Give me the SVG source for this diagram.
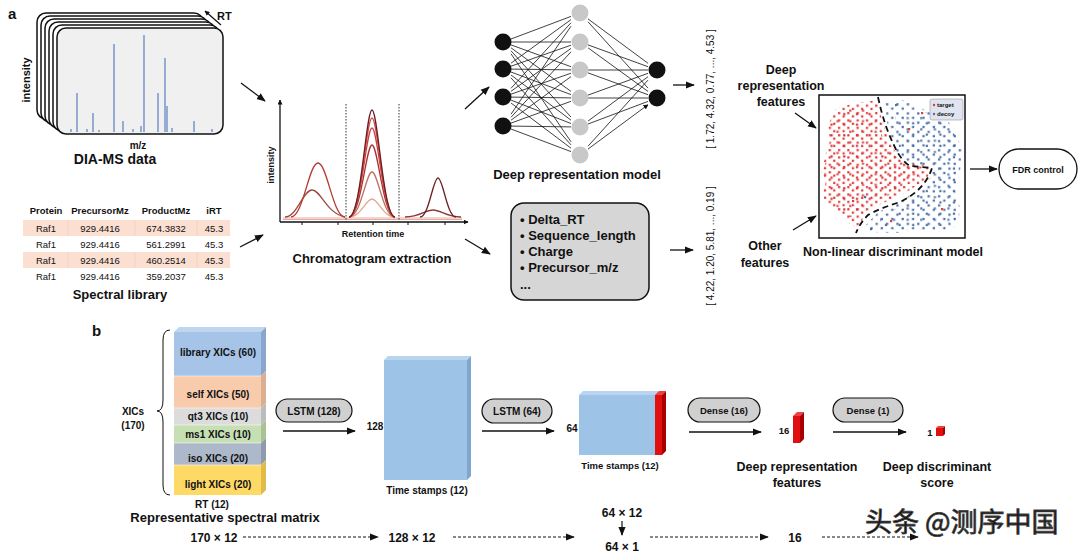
<svg xmlns="http://www.w3.org/2000/svg" width="1080" height="554" viewBox="0 0 1080 554">
<defs>
<style>
text{font-family:"Liberation Sans",Arial,sans-serif;fill:#111}
.b{font-weight:bold}
.t13{font-size:13px;font-weight:bold}
.t10{font-size:10px;font-weight:bold}
.t12{font-size:12px;font-weight:bold}
.tab{font-size:9.5px;fill:#444}
.ln{stroke:#111;stroke-width:1.3;fill:none}
.nn{stroke:#111;stroke-width:0.8;fill:none;marker-end:url(#ah)}
.pill{fill:#d0d0d0;stroke:#111;stroke-width:1.2}
.dash{stroke:#111;stroke-width:1;stroke-dasharray:3,2;fill:none;marker-end:url(#arr)}
.pk{fill:none;stroke-width:1.3}
</style>
<marker id="arr" viewBox="0 0 10 10" refX="9" refY="5" markerWidth="9" markerHeight="9" markerUnits="userSpaceOnUse" orient="auto"><path d="M0,1 L10,5 L0,9 z" fill="#111"/></marker>
<marker id="ah" viewBox="0 0 10 10" refX="9" refY="5" markerWidth="5" markerHeight="5" markerUnits="userSpaceOnUse" orient="auto"><path d="M0,0 L10,5 L0,10 z" fill="#111"/></marker>
<pattern id="pr1" width="9.3" height="7.4" patternUnits="userSpaceOnUse"><rect x="1" y="1" width="2.2" height="2.2" fill="#e03a3a"/><rect x="5.5" y="4.3" width="2.2" height="2.2" fill="#e03a3a"/></pattern>
<pattern id="pr2" x="3" y="2" width="12.7" height="10.6" patternUnits="userSpaceOnUse"><rect x="2" y="5" width="2.2" height="2.2" fill="#d83030"/><rect x="8" y="1.5" width="2.2" height="2.2" fill="#e04848"/></pattern>
<pattern id="pb1" width="10.4" height="9.2" patternUnits="userSpaceOnUse"><rect x="2" y="2" width="2.2" height="2.2" fill="#4a6fa5"/><rect x="7.2" y="6.3" width="2.2" height="2.2" fill="#4a6fa5"/></pattern>
<pattern id="pb2" x="4" y="1" width="13.6" height="11.3" patternUnits="userSpaceOnUse"><rect x="5" y="3" width="2.2" height="2.2" fill="#5a7fb5"/><rect x="10.5" y="8.2" width="2.2" height="2.2" fill="#4a6fa5"/></pattern>
</defs>
<rect width="1080" height="554" fill="#fff"/>

<text x="8" y="19" class="b" font-size="15">a</text>
<text x="92" y="336" class="b" font-size="15">b</text>

<g id="dia-ms">
<rect x="37" y="13" width="166" height="106" rx="9" fill="#fff" stroke="#111" stroke-width="1.5"/>
<rect x="41" y="16" width="166" height="106" rx="9" fill="#fff" stroke="#111" stroke-width="1.5"/>
<rect x="45" y="19" width="166" height="106" rx="9" fill="#fff" stroke="#111" stroke-width="1.5"/>
<rect x="49" y="22" width="166" height="106" rx="9" fill="#fff" stroke="#111" stroke-width="1.5"/>
<rect x="53" y="25" width="166" height="106" rx="9" fill="#fff" stroke="#111" stroke-width="1.5"/>
<rect x="57" y="28" width="166" height="106" rx="9" fill="#f0f0f0" stroke="#111" stroke-width="1.5"/>
<path d="M71,132V129 M77,132V93 M87,132V129 M93,132V113 M99,132V130 M114,132V44 M123,132V121 M133,132V129 M141,132V126 M144,132V35 M158,132V93 M165,132V58 M167,132V106 M172,132V128 M194,132V121 M212,132V129" stroke="#5b7fbf" stroke-width="1.2"/>
<line x1="221" y1="25" x2="205" y2="11" stroke="#111" stroke-width="1.2" marker-end="url(#ah)"/>
<text x="217" y="20" class="b" font-size="11">RT</text>
<text transform="translate(30,80) rotate(-90)" text-anchor="middle" class="b" font-size="11">intensity</text>
<text x="138" y="149" text-anchor="middle" class="b" font-size="10">m/z</text>
<text x="115" y="164" text-anchor="middle" class="b" font-size="14">DIA-MS data</text>
</g>

<g id="spectral-library">
<rect x="23" y="220" width="207" height="16" fill="#fbe0d2"/>
<rect x="23" y="252" width="207" height="16" fill="#fbe0d2"/>
<path d="M68,220V236 M135,220V236 M197,220V236 M68,252V268 M135,252V268 M197,252V268" stroke="#f3cdbb" stroke-width="0.8"/>
<g class="b" font-size="9.5" text-anchor="middle">
<text x="46" y="214">Protein</text><text x="100" y="214">PrecursorMz</text><text x="166" y="214">ProductMz</text><text x="214" y="214">iRT</text>
</g>
<g class="tab" text-anchor="middle">
<text x="46" y="232">Raf1</text><text x="100" y="232">929.4416</text><text x="166" y="232">674.3832</text><text x="214" y="232">45.3</text>
<text x="46" y="248">Raf1</text><text x="100" y="248">929.4416</text><text x="166" y="248">561.2991</text><text x="214" y="248">45.3</text>
<text x="46" y="264">Raf1</text><text x="100" y="264">929.4416</text><text x="166" y="264">460.2514</text><text x="214" y="264">45.3</text>
<text x="46" y="280">Raf1</text><text x="100" y="280">929.4416</text><text x="166" y="280">359.2037</text><text x="214" y="280">45.3</text>
</g>
<text x="120" y="299" text-anchor="middle" class="t13">Spectral library</text>
</g>

<g id="chromatogram">
<path d="M283,218H462 M283,219.5H462" stroke="#e8a8a0" stroke-width="1"/>
<path class="pk" stroke="#9a4a40" d="M285,217 C297,217 303,190 312,190 C321,190 326,213 345,217"/>
<path class="pk" stroke="#b83a30" d="M291,217 C303,217 309,163 318,163 C327,163 333,217 345,217"/>
<path class="pk" stroke="#e0a890" d="M349,217 C361,217 366,199 372,199 C378,199 383,217 395,217"/>
<path class="pk" stroke="#c07060" d="M349,217 C361,217 366,172 372,172 C378,172 383,217 395,217"/>
<path class="pk" stroke="#a83030" d="M349,217 C361,217 366,145 372,145 C378,145 383,217 395,217"/>
<path class="pk" stroke="#c84040" d="M349,217 C361,217 366,128 372,128 C378,128 383,217 395,217"/>
<path class="pk" stroke="#d05050" d="M349,217 C361,217 366,118 372,118 C378,118 383,217 395,217"/>
<path class="pk" stroke="#6e1c1c" d="M349,217 C361,217 366,110 372,110 C378,110 383,217 395,217"/>
<path class="pk" stroke="#8b3a3a" d="M405,217 C420,217 425,210 433,210 C441,210 446,217 461,217"/>
<path class="pk" stroke="#6b2020" d="M420,217 C429,217 433,178 438,178 C443,178 447,217 456,217"/>
<line x1="280" y1="222" x2="280" y2="100" class="ln" marker-end="url(#ah)"/>
<line x1="280" y1="222" x2="468" y2="222" class="ln" marker-end="url(#ah)"/>
<path d="M302,222v3 M338,222v3 M373,222v3 M408,222v3 M445,222v3" stroke="#111" stroke-width="1"/>
<path d="M346,104V222 M399,104V222" stroke="#333" stroke-width="1" stroke-dasharray="1.5,1.5"/>
<text transform="translate(274,165) rotate(-90)" text-anchor="middle" class="b" font-size="9">intensity</text>
<text x="373" y="237" text-anchor="middle" class="b" font-size="9">Retention time</text>
<text x="372" y="263" text-anchor="middle" class="t13">Chromatogram extraction</text>
</g>

<g id="deep-model">
<path class="nn" d="M511,39L571,16.4 M511,42L571,42 M511,44.9L571,66.7 M511,47.8L571,91.4 M511,50.8L571,117.1 M511,53.8L571,141.8
M511,63.2L571,19.6 M511,66.2L571,45.2 M511,69.1L571,69.9 M511,72L571,94.6 M511,75L571,120.2 M511,77.9L571,144.9
M511,88.3L571,22.8 M511,91.3L571,48.4 M511,94.2L571,73.2 M511,97.1L571,97.9 M511,100.1L571,123.5 M511,103L571,148.2
M511,114.2L571,26.2 M511,117.3L571,51.8 M511,120.2L571,76.6 M511,123.1L571,101.3 M511,126.1L571,126.9 M511,129L571,151.6
M588,18.9L648,63.3 M588,44.9L648,66.7 M588,70L648,70 M588,95.1L648,73.3 M588,121.1L648,76.7 M588,146.2L648,80.1
M588,21.8L648,88.1 M588,47.8L648,91.4 M588,72.9L648,94.7 M588,98L648,98 M588,124L648,101.4 M588,149.1L648,104.7"/>
<g fill="#111"><circle cx="503" cy="42" r="8.5"/><circle cx="503" cy="69" r="8.5"/><circle cx="503" cy="97" r="8.5"/><circle cx="503" cy="126" r="8.5"/><circle cx="657" cy="70" r="8.5"/><circle cx="657" cy="98" r="8.5"/></g>
<g fill="#c8c8c8"><circle cx="580" cy="13" r="8.5"/><circle cx="580" cy="42" r="8.5"/><circle cx="580" cy="70" r="8.5"/><circle cx="580" cy="98" r="8.5"/><circle cx="580" cy="127" r="8.5"/><circle cx="580" cy="155" r="8.5"/></g>
<text x="577" y="179" text-anchor="middle" class="t13">Deep representation model</text>
</g>

<g id="feature-box">
<rect x="511" y="203" width="138" height="97" rx="13" fill="#d6d6d6" stroke="#111" stroke-width="1.5"/>
<g class="b" font-size="13">
<text x="520" y="224">• Delta_RT</text>
<text x="520" y="240">• Sequence_length</text>
<text x="520" y="256">• Charge</text>
<text x="520" y="272">• Precursor_m/z</text>
<text x="520" y="289">...</text>
</g>
</g>

<g id="vectors">
<text transform="translate(714,89) rotate(-90)" text-anchor="middle" font-size="10">[ 1.72, 4.32, 0.77, ..., 4.53 ]</text>
<text transform="translate(714,246) rotate(-90)" text-anchor="middle" font-size="10">[ 4.22, 1.20, 5.81, ..., 0.19 ]</text>
</g>

<g id="feature-labels" class="b" font-size="12.5" text-anchor="middle">
<text x="781" y="74">Deep</text>
<text x="781" y="90">representation</text>
<text x="781" y="106">features</text>
<text x="765" y="250">Other</text>
<text x="765" y="267">features</text>
</g>

<g id="discriminant">
<rect x="819" y="95" width="146" height="143" fill="#fff" stroke="#111" stroke-width="1.5"/>
<path fill="url(#pb1)" d="M885,102 L905,100 L925,110 L945,118 L955,130 L962,150 L960,172 L955,190 L960,208 L958,225 L945,232 L920,231 L895,233 L872,232 L866,225 L878,212 L898,203 L918,190 L930,178 L932,166 L905,163 L895,150 L888,130 Z"/>
<path fill="url(#pb2)" d="M895,115 L925,112 L945,122 L955,135 L960,160 L955,195 L958,222 L930,230 L880,230 L880,218 L900,206 L925,188 L934,168 L906,161 L896,140 Z"/>
<path fill="url(#pr1)" d="M836,108 L852,104 L877,100 L882,120 L890,143 L902,162 L930,166 L928,178 L910,190 L890,200 L872,208 L862,220 L858,229 L850,224 L840,214 L828,206 L822,194 L826,182 L821,170 L826,156 L830,140 L828,125 Z"/>
<path fill="url(#pr2)" d="M830,118 L850,108 L872,108 L880,130 L888,150 L900,160 L925,168 L918,180 L895,193 L870,202 L856,218 L845,216 L828,200 L824,178 L826,150 Z"/>
<g fill="#e03a3a"><rect x="921" y="112" width="2.2" height="2.2"/><rect x="908" y="128" width="2.2" height="2.2"/><rect x="941" y="208" width="2.2" height="2.2"/><rect x="890" y="220" width="2.2" height="2.2"/><rect x="852" y="200" width="2.2" height="2.2"/></g>
<g fill="#4a6fa5"><rect x="895" y="104" width="2.2" height="2.2"/><rect x="864" y="196" width="2.2" height="2.2"/><rect x="870" y="228" width="2.2" height="2.2"/></g>
<path d="M878,97 Q884,125 893,143 Q900,160 910,166 L932,168 Q925,190 900,202 Q878,209 868,215 Q860,223 856,233" fill="none" stroke="#111" stroke-width="1.8" stroke-dasharray="6,4"/>
<rect x="930" y="99" width="33" height="21" rx="2" fill="#dfe4f0" stroke="#999" stroke-width="0.6"/>
<circle cx="934" cy="105" r="1.2" fill="#e03a3a"/><circle cx="934" cy="114" r="1.2" fill="#4a6fa5"/>
<text x="937" y="107" class="b" font-size="6" fill="#333">target</text>
<text x="937" y="116" class="b" font-size="6" fill="#333">decoy</text>
<text x="893" y="256" text-anchor="middle" class="b" font-size="12.5">Non-linear discriminant model</text>
</g>

<g id="fdr-control">
<rect x="999" y="149" width="78" height="40" rx="20" fill="#fff" stroke="#111" stroke-width="1.3"/>
<text x="1038" y="173" text-anchor="middle" class="b" font-size="9">FDR control</text>
</g>

<g id="matrix">
<path d="M174,332 L179,327 L266,327 L261,332 Z" fill="#c0d6f0"/>
<rect x="174" y="332" width="87" height="44" fill="#a6c3e8"/><path d="M261,332 L266,327 L266,371 L261,376 Z" fill="#8aa6cc"/>
<rect x="174" y="376" width="87" height="32" fill="#f8cbad"/><path d="M261,376 L266,371 L266,403 L261,408 Z" fill="#dcae92"/>
<rect x="174" y="408" width="87" height="17" fill="#dcdcdc"/><path d="M261,408 L266,403 L266,420 L261,425 Z" fill="#bcbcbc"/>
<rect x="174" y="425" width="87" height="18" fill="#c6e0b4"/><path d="M261,425 L266,420 L266,438 L261,443 Z" fill="#a8c296"/>
<rect x="174" y="443" width="87" height="22" fill="#adb9ca"/><path d="M261,443 L266,438 L266,460 L261,465 Z" fill="#8f9bab"/>
<rect x="174" y="465" width="87" height="30" fill="#ffd966"/><path d="M261,465 L266,460 L266,490 L261,495 Z" fill="#e0bb4a"/>
<path d="M174,376H261 M174,408H261 M174,425H261 M174,443H261 M174,465H261" stroke="#fff" stroke-width="0.8" opacity="0.7"/>
<g class="b" font-size="10" fill="#222" text-anchor="middle">
<text x="218" y="356">library XICs (60)</text>
<text x="218" y="398">self XICs (50)</text>
<text x="218" y="420">qt3 XICs (10)</text>
<text x="218" y="438">ms1 XICs (10)</text>
<text x="218" y="462">iso XICs (20)</text>
<text x="218" y="488">light XICs (20)</text>
</g>
<path d="M170,330 Q163,330 163,340 L163,400 Q163,411 157,411 Q163,411 163,422 L163,485 Q163,495 170,495" fill="none" stroke="#111" stroke-width="1"/>
<text x="133" y="415" text-anchor="middle" class="t10">XICs</text>
<text x="133" y="429" text-anchor="middle" class="t10">(170)</text>
<text x="212" y="508" text-anchor="middle" class="t10">RT (12)</text>
<text x="225" y="522" text-anchor="middle" class="t13">Representative spectral matrix</text>
</g>

<g id="lstm128">
<rect x="276" y="399" width="76" height="23" rx="11.5" class="pill"/>
<text x="314" y="415" text-anchor="middle" class="t10">LSTM (128)</text>
</g>
<g id="block128">
<path d="M384,360 L388,356 L471,356 L467,360 Z" fill="#b8d4ef"/>
<rect x="384" y="360" width="83" height="120" fill="#9dc3e6"/>
<path d="M467,360 L471,356 L471,476 L467,480 Z" fill="#7fa6cc"/>
<text x="375" y="430" text-anchor="middle" class="t10">128</text>
<text x="427" y="494" text-anchor="middle" class="t10">Time stamps (12)</text>
</g>
<g id="lstm64">
<rect x="482" y="399" width="70" height="24" rx="12" class="pill"/>
<text x="517" y="415" text-anchor="middle" class="t10">LSTM (64)</text>
</g>
<g id="block64">
<path d="M579,395 L583,391 L666,391 L662,395 Z" fill="#b8d4ef"/>
<rect x="579" y="395" width="76" height="60" fill="#9dc3e6"/>
<path d="M655,395 L659,391 L666,391 L662,395 Z" fill="#f04040"/>
<rect x="655" y="395" width="7" height="60" fill="#e01010"/>
<path d="M662,395 L666,391 L666,451 L662,455 Z" fill="#a80000"/>
<text x="572" y="432" text-anchor="middle" class="t10">64</text>
<text x="620" y="469" text-anchor="middle" class="b" font-size="9.5">Time stamps (12)</text>
</g>
<g id="dense16">
<rect x="688" y="398" width="72" height="24" rx="12" class="pill"/>
<text x="724" y="414" text-anchor="middle" class="b" font-size="9.5">Dense (16)</text>
</g>
<g id="block16">
<path d="M793,416 L797,412 L804,412 L800,416 Z" fill="#f04040"/>
<rect x="793" y="416" width="7" height="27" fill="#e01010"/>
<path d="M800,416 L804,412 L804,439 L800,443 Z" fill="#a80000"/>
<text x="784" y="434" text-anchor="middle" class="b" font-size="9.5">16</text>
<text x="797" y="471" text-anchor="middle" class="b" font-size="12.5">Deep representation</text>
<text x="797" y="487" text-anchor="middle" class="b" font-size="12.5">features</text>
</g>
<g id="dense1">
<rect x="833" y="398" width="70" height="24" rx="12" class="pill"/>
<text x="868" y="414" text-anchor="middle" class="b" font-size="9.5">Dense (1)</text>
</g>
<g id="block1">
<path d="M936,428 L938,426 L945,426 L943,428 Z" fill="#f04040"/>
<rect x="936" y="428" width="7" height="8" fill="#e01010"/>
<path d="M943,428 L945,426 L945,434 L943,436 Z" fill="#a80000"/>
<text x="930" y="436" text-anchor="middle" class="b" font-size="9.5">1</text>
<text x="937" y="471" text-anchor="middle" class="b" font-size="12.5">Deep discriminant</text>
<text x="937" y="487" text-anchor="middle" class="b" font-size="12.5">score</text>
</g>

<g id="dims" text-anchor="middle">
<text x="214" y="542" class="t12">170 × 12</text>
<text x="412" y="542" class="t12">128 × 12</text>
<text x="622" y="517" class="t12" font-size="11.5">64 × 12</text>
<text x="622" y="551" class="t12" font-size="11.5">64 × 1</text>
<text x="795" y="542" class="t12">16</text>
</g>

<g id="connectors">
<line x1="241" y1="83" x2="265" y2="101" class="ln" marker-end="url(#arr)"/>
<line x1="240" y1="247" x2="263" y2="235" class="ln" marker-end="url(#arr)"/>
<line x1="465" y1="109" x2="489" y2="87" class="ln" marker-end="url(#arr)"/>
<line x1="465" y1="239" x2="490" y2="254" class="ln" marker-end="url(#arr)"/>
<line x1="673" y1="85" x2="694" y2="85" class="ln" marker-end="url(#arr)"/>
<line x1="670" y1="250" x2="693" y2="250" class="ln" marker-end="url(#arr)"/>
<line x1="795" y1="113" x2="816" y2="128" class="ln" marker-end="url(#arr)"/>
<line x1="793" y1="230" x2="816" y2="216" class="ln" marker-end="url(#arr)"/>
<line x1="970" y1="169" x2="997" y2="169" class="ln" marker-end="url(#arr)"/>
<line x1="283" y1="431" x2="355" y2="431" class="ln" marker-end="url(#arr)"/>
<line x1="482" y1="431" x2="554" y2="431" class="ln" marker-end="url(#arr)"/>
<line x1="689" y1="432" x2="761" y2="432" class="ln" marker-end="url(#arr)"/>
<line x1="833" y1="432" x2="906" y2="432" class="ln" marker-end="url(#arr)"/>
<line x1="243" y1="537" x2="378" y2="537" class="dash"/>
<line x1="453" y1="537" x2="574" y2="537" class="dash"/>
<line x1="650" y1="537" x2="768" y2="537" class="dash"/>
<line x1="822" y1="537" x2="918" y2="537" class="dash"/>
<line x1="622" y1="521" x2="622" y2="535" stroke="#111" stroke-width="1.2" marker-end="url(#arr)"/>
</g>

<text x="865" y="532" font-size="27" fill="#fff" stroke="#444" stroke-width="0.8" style="font-family:'Noto Sans CJK SC',sans-serif">头条 @测序中国</text>
</svg>
